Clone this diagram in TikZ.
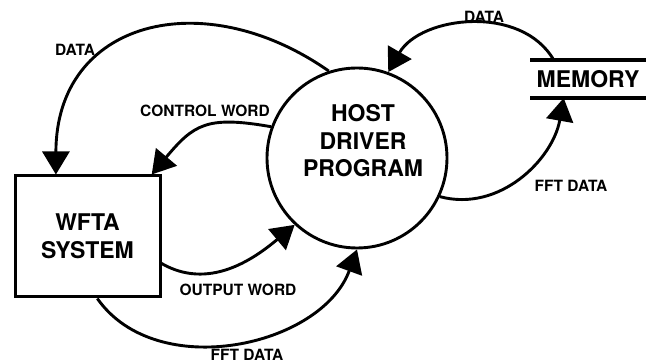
\documentclass[tikz,border=0pt]{standalone}
\usepackage{fontspec}
\setmainfont{TeX Gyre Heros}
\usetikzlibrary{arrows.meta,calc}

\begin{document}
\begin{tikzpicture}[x=1pt,y=1pt,
    flow/.style={line width=2.9pt,-{Triangle[length=23pt,width=27pt]}},
    lbl/.style={font=\fontsize{15.5}{17}\selectfont\bfseries,inner sep=0pt},
    big/.style={font=\fontsize{23}{27.5}\selectfont\bfseries,align=center}]
    \useasboundingbox (0,0) rectangle (646,364);
    % processes and store
    \node[draw,circle,line width=2.9pt,minimum size=180pt,inner sep=0pt] (host) at (357,206) {};
    \node[big] (hosttext) at (363,223) {HOST\\DRIVER\\PROGRAM};
    \node[big,draw,line width=3pt,minimum width=145pt,minimum height=121pt] (wfta) at (87.5,127.5) {WFTA\\SYSTEM};
    \node[big,minimum width=116pt,minimum height=38pt,inner sep=0pt,outer sep=0pt] (memory) at (588,285) {MEMORY};
    \draw[line width=3.5pt] (memory.north west) -- (memory.north east);
    \draw[line width=3.5pt] (memory.south west) -- (memory.south east);

    % data flows
    \draw[flow] (host.108) to[out=145,in=90,looseness=1.35] (wfta.117);
    \draw[flow] (host.160) to[out=170,in=50,looseness=1.3] (wfta.44);
    \draw[flow] (wfta.-20) to[out=-30,in=220] (host.227);
    \draw[flow] (wfta.-81) to[out=-55,in=250] (host.270);
    \draw[flow] (memory.151) to[out=120,in=60] (host.70);
    \draw[flow] (host.-25) to[out=-15,in=-100] (memory.218);

    \node[lbl] (datal) at (75,314) {DATA};
    \node[lbl] (ctrl) at (205,253) {CONTROL WORD};
    \node[lbl] (outw) at (238,74) {OUTPUT WORD};
    \node[lbl] (fftb) at (247,9) {FFT DATA};
    \node[lbl] (datar) at (484,347) {DATA};
    \node[lbl] (fftr) at (571,178) {FFT DATA};
\end{tikzpicture}
\end{document}
